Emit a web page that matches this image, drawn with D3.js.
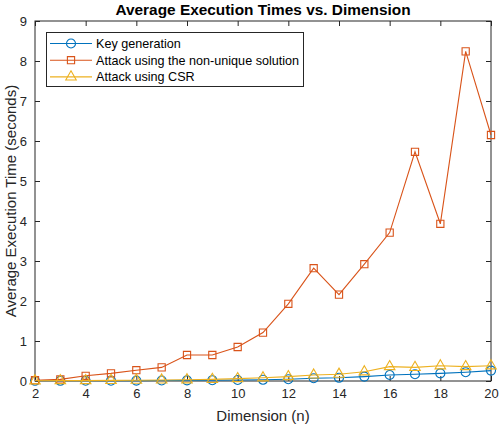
<!DOCTYPE html>
<html><head><meta charset="utf-8">
<script src="https://cdn.jsdelivr.net/npm/d3@7"></script>
<style>body{margin:0;background:#fff;}svg{display:block;font-family:"Liberation Sans",Arial,Helvetica,sans-serif;}</style>
</head><body>
<svg id="chart" width="500" height="426"></svg>
<script>
const dims = [2,3,4,5,6,7,8,9,10,11,12,13,14,15,16,17,18,19,20];
const keyGen = [0.005,0.005,0.006,0.008,0.01,0.012,0.015,0.02,0.025,0.03,0.045,0.07,0.08,0.11,0.15,0.17,0.19,0.22,0.26];
const attackNonUnique = [0.02,0.04,0.13,0.19,0.27,0.34,0.65,0.65,0.85,1.21,1.93,2.82,2.16,2.92,3.71,5.73,3.93,8.24,6.15];
const attackCSR = [0.005,0.01,0.01,0.015,0.02,0.025,0.03,0.04,0.06,0.08,0.11,0.15,0.17,0.23,0.36,0.34,0.38,0.36,0.38];
const xTicks = [2,4,6,8,10,12,14,16,18,20];
const yTicks = [0,1,2,3,4,5,6,7,8,9];
const seriesNames = ["Key generation","Attack using the non-unique solution","Attack using CSR"];
const seriesColors = ["#0072BD","#D95319","#EDB120"];
const seriesMarkers = ["circle","square","triangle"];
const titleText = "Average Execution Times vs. Dimension";
const xLabel = "Dimension (n)";
const yLabel = "Average Execution Time (seconds)";

const svg = d3.select("#chart");
const L = 35, R = 491, T = 21, B = 381;
const x = d3.scaleLinear().domain([2,20]).range([L,R]);
const y = d3.scaleLinear().domain([0,9]).range([B,T]);
const axisColor = "#262626";

// axes (inward ticks on all four sides)
const tl = 5;
svg.append("g").attr("transform",`translate(0,${B})`)
  .call(d3.axisBottom(x).tickValues(xTicks).tickSizeInner(-tl).tickSizeOuter(0).tickPadding(8))
  .call(g=>{g.select(".domain").remove();g.selectAll("text").attr("font-size",13).attr("fill",axisColor).attr("font-family","Liberation Sans, Arial");g.selectAll("line").attr("stroke",axisColor);});
svg.append("g").attr("transform",`translate(0,${T})`)
  .call(d3.axisTop(x).tickValues(xTicks).tickSizeInner(-tl).tickSizeOuter(0).tickFormat(""))
  .call(g=>{g.select(".domain").remove();g.selectAll("line").attr("stroke",axisColor);});
svg.append("g").attr("transform",`translate(${L},0)`)
  .call(d3.axisLeft(y).tickValues(yTicks).tickSizeInner(-tl).tickSizeOuter(0).tickPadding(8))
  .call(g=>{g.select(".domain").remove();g.selectAll("text").attr("font-size",13).attr("fill",axisColor).attr("font-family","Liberation Sans, Arial");g.selectAll("line").attr("stroke",axisColor);});
svg.append("g").attr("transform",`translate(${R},0)`)
  .call(d3.axisRight(y).tickValues(yTicks).tickSizeInner(-tl).tickSizeOuter(0).tickFormat(""))
  .call(g=>{g.select(".domain").remove();g.selectAll("line").attr("stroke",axisColor);});
svg.append("rect").attr("x",L).attr("y",T).attr("width",R-L).attr("height",B-T)
  .attr("fill","none").attr("stroke",axisColor).attr("stroke-width",1);

// series
const allSeries = [keyGen, attackNonUnique, attackCSR];
const symTypes = {circle:d3.symbolCircle, square:d3.symbolSquare, triangle:d3.symbolTriangle};
const symSizes = {circle:64, square:52, triangle:48};
const line = d3.line().x((d,i)=>x(dims[i])).y(d=>y(d));
allSeries.forEach((s,k)=>{
  const g = svg.append("g");
  g.append("path").datum(s).attr("d",line).attr("fill","none").attr("stroke",seriesColors[k]).attr("stroke-width",1.1);
  g.selectAll("path.m").data(s).join("path").attr("class","m")
    .attr("transform",(d,i)=>`translate(${x(dims[i])},${y(d)})`)
    .attr("d",d3.symbol().type(symTypes[seriesMarkers[k]]).size(symSizes[seriesMarkers[k]]))
    .attr("fill","none").attr("stroke",seriesColors[k]).attr("stroke-width",1.1);
});

// legend
const lg = svg.append("g");
lg.append("rect").attr("x",46.5).attr("y",32.5).attr("width",257).attr("height",54)
  .attr("fill","#fff").attr("stroke",axisColor).attr("stroke-width",1);
seriesNames.forEach((n,k)=>{
  const yy = 43.5 + k*16.7;
  lg.append("line").attr("x1",50).attr("x2",92).attr("y1",yy).attr("y2",yy).attr("stroke",seriesColors[k]).attr("stroke-width",1.1);
  lg.append("path").attr("transform",`translate(71,${yy})`)
    .attr("d",d3.symbol().type(symTypes[seriesMarkers[k]]).size(symSizes[seriesMarkers[k]]))
    .attr("fill","none").attr("stroke",seriesColors[k]).attr("stroke-width",1.1);
  lg.append("text").attr("x",96).attr("y",yy).attr("dy","0.35em").attr("font-size",12.6).attr("fill","#000").text(n);
});

// title & labels
svg.append("text").attr("x",(L+R)/2).attr("y",15).attr("text-anchor","middle")
  .attr("font-size",15.4).attr("font-weight","bold").attr("fill","#000").text(titleText);
svg.append("text").attr("x",(L+R)/2).attr("y",421).attr("text-anchor","middle")
  .attr("font-size",15).attr("fill",axisColor).text(xLabel);
svg.append("text").attr("transform",`translate(16,${(T+B)/2}) rotate(-90)`).attr("text-anchor","middle")
  .attr("font-size",15).attr("fill",axisColor).text(yLabel);
</script>
</body></html>
